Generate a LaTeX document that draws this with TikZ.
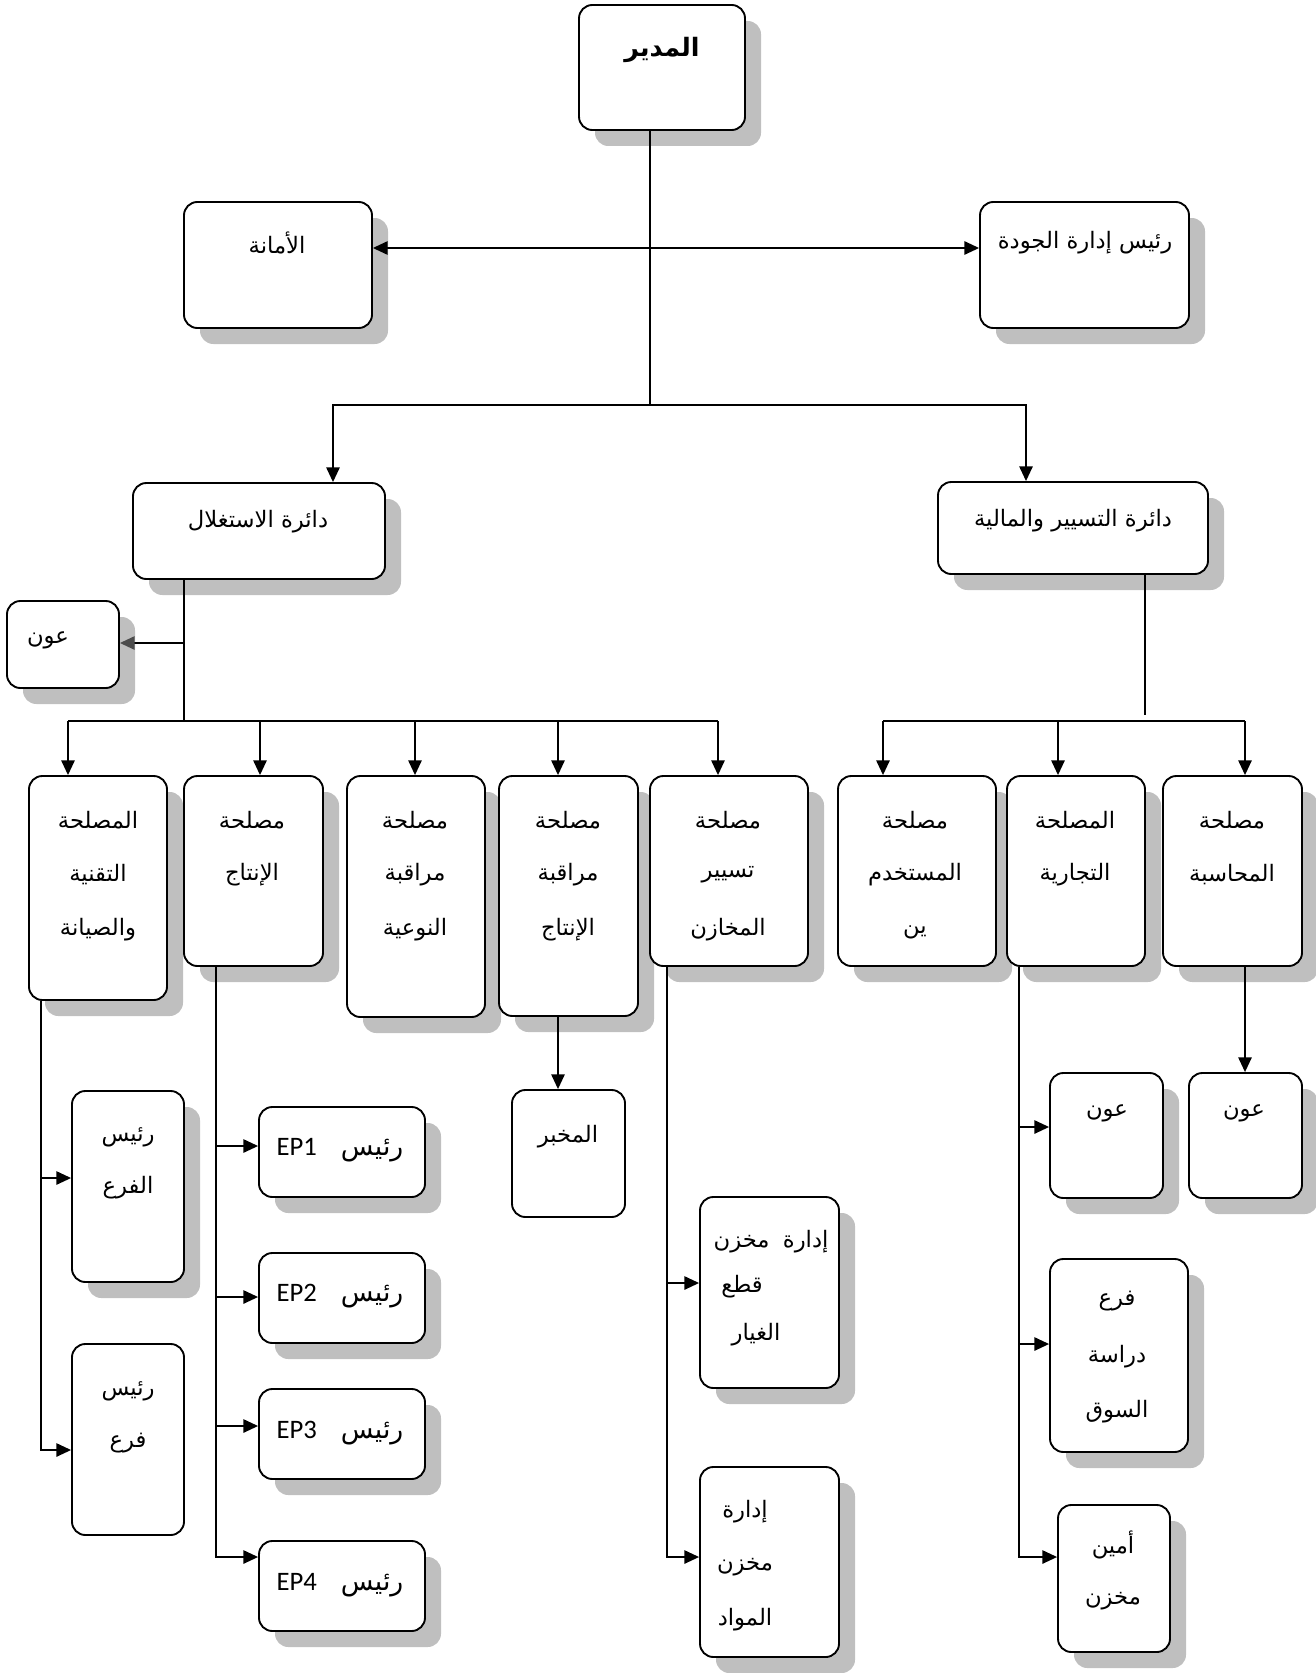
\documentclass[tikz,border=0pt]{standalone}
\usepackage{fontspec}
\setmainfont{Carlito}
\newfontfamily\arabicfont[Script=Arabic]{DejaVu Sans}
\TeXXeTstate=1
\usetikzlibrary{arrows.meta,shadows}
\newcommand\AR[1]{{\arabicfont\beginR #1\endR}}
\tikzset{
  base/.style={draw, line width=1.4pt, rounded corners=10pt, fill=white, inner sep=0pt, rectangle},
  bx/.style={base, drop shadow={shadow xshift=12pt, shadow yshift=-12pt, fill=black!25, opacity=1, draw=none}},
  txt/.style={font=\fontsize{17}{19}\selectfont, inner sep=0pt},
  eptxt/.style={font=\fontsize{20}{22}\selectfont, inner sep=0pt},
  ln/.style={line width=1.2pt},
  arr/.style={ln, -{Triangle[length=11pt,width=10pt]}},
  arrg/.style={ln, -{Triangle[length=11pt,width=10pt,color=black!70]}}
}
\newcommand\BX[6][bx]{\node[#1,minimum width={(#5-#3)*0.75pt},minimum height={(#6-#4)*0.75pt}] (#2) at ({(#3+#5)/2},{(#4+#6)/2}) {};}
\begin{document}
\begin{tikzpicture}[x=0.75pt,y=-0.75pt]
\useasboundingbox (0,0) rectangle (1316,1673);
% boxes
\BX{dir}{579}{5}{745}{130}
\BX{amana}{184}{202}{372}{328}
\BX{qual}{980}{202}{1189}{328}
\BX{expl}{133}{483}{385}{579}
\BX{fin}{938}{482}{1208}{574}
\BX{awn1}{7}{601}{119}{688}
\BX{tech}{29}{776}{167}{1000}
\BX{prod}{184}{776}{323}{966}
\BX{qc}{347}{776}{485}{1017}
\BX{pc}{499}{776}{638}{1016}
\BX{wh}{650}{776}{808}{966}
\BX{emp}{838}{776}{996}{966}
\BX{com}{1007}{776}{1145}{966}
\BX{acc}{1163}{776}{1302}{966}
\BX{rf1}{72}{1091}{184}{1282}
\BX[base]{rf2}{72}{1344}{184}{1535}
\BX{ep1}{259}{1107}{425}{1197}
\BX{ep2}{259}{1253}{425}{1343}
\BX{ep3}{259}{1389}{425}{1479}
\BX{ep4}{259}{1541}{425}{1631}
\BX[base]{lab}{512}{1090}{625}{1217}
\BX{spare}{700}{1197}{839}{1388}
\BX{mat}{700}{1467}{839}{1657}
\BX{awn2}{1050}{1073}{1163}{1198}
\BX{awn3}{1189}{1073}{1302}{1198}
\BX{market}{1050}{1259}{1188}{1452}
\BX{keep}{1058}{1505}{1170}{1652}
% texts
\node[txt,font=\fontsize{19}{21}\selectfont\bfseries] (tdir) at (662,50) {\AR{المدير}};
\node[txt] (tamana) at (277,243) {\AR{الأمانة}};
\node[txt] (tqual) at (1085,243) {\AR{رئيس إدارة الجودة}};
\node[txt] (texpl) at (258,522) {\AR{دائرة الاستغلال}};
\node[txt] (tfin) at (1073,521) {\AR{دائرة التسيير والمالية}};
\node[txt] (tawn1) at (48,640) {\AR{عون}};
\node[txt] (ttech1) at (98,820) {\AR{المصلحة}};
\node[txt] (ttech2) at (98,875) {\AR{التقنية}};
\node[txt] (ttech3) at (98,930) {\AR{والصيانة}};
\node[txt] (tprod1) at (252,820) {\AR{مصلحة}};
\node[txt] (tprod2) at (252,875) {\AR{الإنتاج}};
\node[txt] (tqc1) at (415,820) {\AR{مصلحة}};
\node[txt] (tqc2) at (415,875) {\AR{مراقبة}};
\node[txt] (tqc3) at (415,930) {\AR{النوعية}};
\node[txt] (tpc1) at (568,820) {\AR{مصلحة}};
\node[txt] (tpc2) at (568,875) {\AR{مراقبة}};
\node[txt] (tpc3) at (568,930) {\AR{الإنتاج}};
\node[txt] (twh1) at (728,820) {\AR{مصلحة}};
\node[txt] (twh2) at (728,875) {\AR{تسيير}};
\node[txt] (twh3) at (728,930) {\AR{المخازن}};
\node[txt] (temp1) at (915,820) {\AR{مصلحة}};
\node[txt] (temp2) at (915,875) {\AR{المستخدم}};
\node[txt] (temp3) at (915,932) {\AR{ين}};
\node[txt] (tcom1) at (1075,820) {\AR{المصلحة}};
\node[txt] (tcom2) at (1075,875) {\AR{التجارية}};
\node[txt] (tacc1) at (1232,820) {\AR{مصلحة}};
\node[txt] (tacc2) at (1232,875) {\AR{المحاسبة}};
\node[txt] (trf11) at (128,1137) {\AR{رئيس}};
\node[txt] (trf12) at (128,1188) {\AR{الفرع}};
\node[txt] (trf21) at (128,1391) {\AR{رئيس}};
\node[txt] (trf22) at (128,1443) {\AR{فرع}};
\node[eptxt] (tep1) at (340,1150) {EP1\hspace{18pt}\AR{رئيس}};
\node[eptxt] (tep2) at (340,1296) {EP2\hspace{18pt}\AR{رئيس}};
\node[eptxt] (tep3) at (340,1433) {EP3\hspace{18pt}\AR{رئيس}};
\node[eptxt] (tep4) at (340,1585) {EP4\hspace{18pt}\AR{رئيس}};
\node[txt] (tlab) at (568,1137) {\AR{المخبر}};
\node[txt] (tsp1) at (771,1242) {\AR{إدارة\hspace{10pt}مخزن}};
\node[txt] (tsp2) at (742,1287) {\AR{قطع}};
\node[txt] (tsp3) at (756,1335) {\AR{الغيار}};
\node[txt] (tmat1) at (745,1512) {\AR{إدارة}};
\node[txt] (tmat2) at (745,1567) {\AR{مخزن}};
\node[txt] (tmat3) at (745,1620) {\AR{المواد}};
\node[txt] (tawn2) at (1107,1113) {\AR{عون}};
\node[txt] (tawn3) at (1244,1113) {\AR{عون}};
\node[txt] (tmk1) at (1117,1301) {\AR{فرع}};
\node[txt] (tmk2) at (1117,1357) {\AR{دراسة}};
\node[txt] (tmk3) at (1117,1412) {\AR{السوق}};
\node[txt] (tkp1) at (1113,1545) {\AR{أمين}};
\node[txt] (tkp2) at (1113,1601) {\AR{مخزن}};
% connectors
\coordinate (j1) at (650,248);
\coordinate (j2) at (650,405);
\draw[ln] (dir.south -| j1) -- (j2);
\draw[arr] (j1) -- (j1 -| amana.east);
\draw[arr] (j1) -- (j1 -| qual.west);
\coordinate (k1) at (333,405);
\coordinate (k2) at (1026,405);
\draw[arr] (j2) -- (k1) -- (k1 |- expl.north);
\draw[arr] (j2) -- (k2) -- (k2 |- fin.north);
% exploitation branch
\coordinate (e0) at (184,721);
\coordinate (e1) at (184,643);
\draw[ln] (expl.south -| e0) -- (e0);
\draw[arrg] (e1) -- (e1 -| awn1.east);
\coordinate (d1) at (68,721);
\coordinate (d2) at (260,721);
\coordinate (d3) at (415,721);
\coordinate (d4) at (558,721);
\coordinate (d5) at (718,721);
\draw[ln] (d1) -- (d5);
\draw[arr] (d1) -- (d1 |- tech.north);
\draw[arr] (d2) -- (d2 |- prod.north);
\draw[arr] (d3) -- (d3 |- qc.north);
\draw[arr] (d4) -- (d4 |- pc.north);
\draw[arr] (d5) -- (d5 |- wh.north);
% finance branch
\coordinate (f0) at (1145,715);
\draw[ln] (fin.south -| f0) -- (f0);
\coordinate (g1) at (883,721);
\coordinate (g2) at (1058,721);
\coordinate (g3) at (1245,721);
\draw[ln] (g1) -- (g3);
\draw[arr] (g1) -- (g1 |- emp.north);
\draw[arr] (g2) -- (g2 |- com.north);
\draw[arr] (g3) -- (g3 |- acc.north);
% technical
\coordinate (t0) at (41,1450);
\coordinate (t1) at (41,1178);
\draw[arr] (tech.south -| t0) -- (t0) -- (t0 -| rf2.west);
\draw[arr] (t1) -- (t1 -| rf1.west);
% production
\coordinate (p0) at (216,1557);
\coordinate (p1) at (216,1146);
\coordinate (p2) at (216,1297);
\coordinate (p3) at (216,1426);
\draw[arr] (prod.south -| p0) -- (p0) -- (p0 -| ep4.west);
\draw[arr] (p1) -- (p1 -| ep1.west);
\draw[arr] (p2) -- (p2 -| ep2.west);
\draw[arr] (p3) -- (p3 -| ep3.west);
% production control -> lab
\coordinate (l0) at (558,1016);
\draw[arr] (pc.south -| l0) -- (l0 |- lab.north);
% warehouses
\coordinate (w0) at (667,1557);
\coordinate (w1) at (667,1283);
\draw[arr] (wh.south -| w0) -- (w0) -- (w0 -| mat.west);
\draw[arr] (w1) -- (w1 -| spare.west);
% commercial
\coordinate (c0) at (1019,1557);
\coordinate (c1) at (1019,1127);
\coordinate (c2) at (1019,1344);
\draw[arr] (com.south -| c0) -- (c0) -- (c0 -| keep.west);
\draw[arr] (c1) -- (c1 -| awn2.west);
\draw[arr] (c2) -- (c2 -| market.west);
% accounting
\draw[arr] (acc.south -| g3) -- (g3 |- awn3.north);
\end{tikzpicture}
\end{document}
